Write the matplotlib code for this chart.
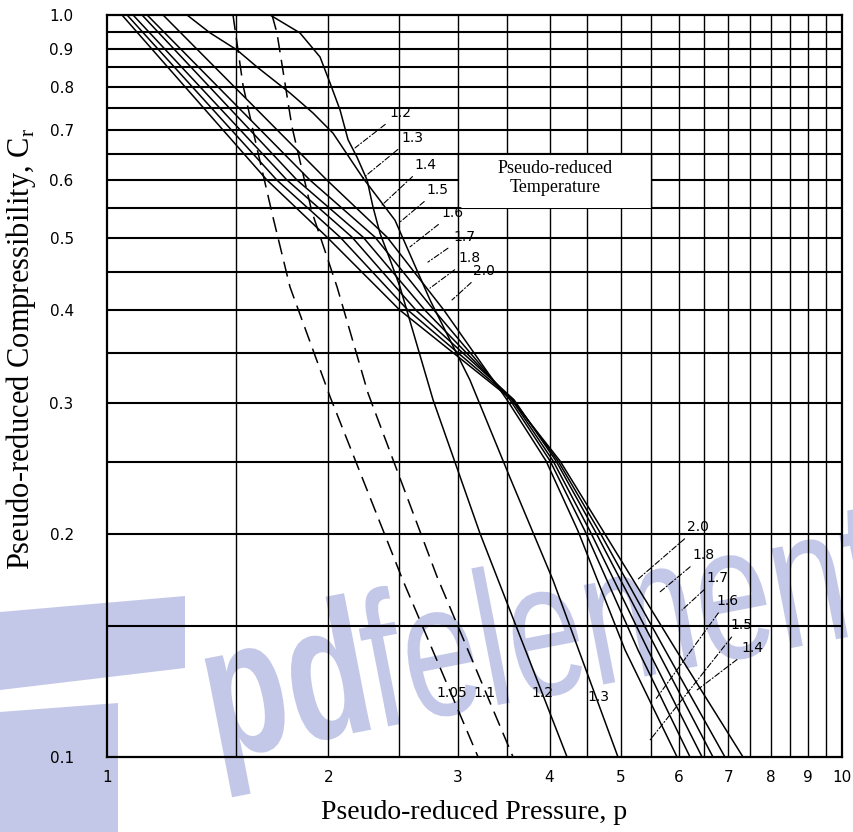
import numpy as np
import matplotlib.pyplot as plt
from matplotlib.textpath import TextPath
from matplotlib.font_manager import FontProperties
from matplotlib.patches import PathPatch, Polygon, Rectangle
from matplotlib.transforms import Affine2D
from matplotlib.path import Path

# Pseudo-reduced pressure / compressibility curves, one pair per temperature
tr105_p = [1.484, 1.531, 1.600, 1.682, 1.774, 2.011, 2.527, 3.198]
tr105_c = [1.0, 0.805, 0.661, 0.534, 0.430, 0.306, 0.173, 0.1]

tr11_p = [1.677, 1.703, 1.785, 1.900, 2.056, 2.266, 2.812, 3.568]
tr11_c = [1.0, 0.946, 0.707, 0.543, 0.430, 0.309, 0.175, 0.1]

tr12_p = [1.667, 1.830, 1.949, 2.011, 2.075, 2.128, 2.189, 2.259, 2.301, 2.352, 2.427, 2.504, 2.777, 3.218, 4.226]
tr12_c = [1.0, 0.946, 0.878, 0.810, 0.745, 0.679, 0.643, 0.599, 0.551, 0.508, 0.468, 0.430, 0.303, 0.200, 0.1]

tr13_p = [1.285, 1.381, 1.503, 1.600, 1.774, 1.906, 2.030, 2.230, 2.465, 2.751, 3.118, 3.534, 4.045, 4.957]
tr13_c = [1.0, 0.946, 0.897, 0.851, 0.785, 0.738, 0.693, 0.603, 0.529, 0.413, 0.322, 0.238, 0.173, 0.1]

# Tr 1.4 - 2.0 share the same compressibility read-off levels
bundle_c = [1.0, 0.599, 0.502, 0.400, 0.303, 0.2506, 0.2017, 0.1394, 0.1]
tr14_p = [1.192, 1.992, 2.404, 2.874, 3.501, 3.957, 4.373, 5.068, 5.965]
tr15_p = [1.134, 1.889, 2.315, 2.786, 3.534, 4.007, 4.469, 5.278, 6.212]
tr16_p = [1.116, 1.814, 2.230, 2.708, 3.556, 4.045, 4.540, 5.446, 6.451]
tr17_p = [1.085, 1.758, 2.154, 2.633, 3.579, 4.082, 4.612, 5.602, 6.675]
tr18_p = [1.065, 1.703, 2.075, 2.568, 3.568, 4.108, 4.671, 5.744, 6.930]
tr20_p = [1.048, 1.651, 1.992, 2.504, 3.556, 4.134, 4.730, 5.946, 7.334]

# grid
x_grid = [1.5, 2, 2.5, 3, 3.5, 4, 4.5, 5, 5.5, 6, 6.5, 7, 7.5, 8, 8.5, 9, 9.5]
y_grid = [0.15, 0.2, 0.25, 0.3, 0.35, 0.4, 0.45, 0.5, 0.55, 0.6, 0.65, 0.7, 0.75, 0.8, 0.85, 0.9, 0.95]
x_ticks = [1, 2, 3, 4, 5, 6, 7, 8, 9, 10]
x_ticklabels = ['1', '2', '3', '4', '5', '6', '7', '8', '9', '10']
y_ticks = [0.1, 0.2, 0.3, 0.4, 0.5, 0.6, 0.7, 0.8, 0.9, 1.0]
y_ticklabels = ['0.1', '0.2', '0.3', '0.4', '0.5', '0.6', '0.7', '0.8', '0.9', '1.0']

# curve labels: text, label position, point on curve
top_names = ['1.2', '1.3', '1.4', '1.5', '1.6', '1.7', '1.8', '2.0']
top_label_p = [2.504, 2.60, 2.708, 2.82, 2.956, 3.06, 3.118, 3.258]
top_label_c = [0.738, 0.683, 0.628, 0.581, 0.541, 0.502, 0.470, 0.452]
top_point_p = [2.175, 2.230, 2.367, 2.504, 2.584, 2.733, 2.751, 2.947]
top_point_c = [0.662, 0.603, 0.5545, 0.526, 0.487, 0.4645, 0.4285, 0.413]

right_names = ['2.0', '1.8', '1.7', '1.6', '1.5', '1.4']
right_label_p = [6.368, 6.49, 6.76, 6.977, 7.289, 7.544]
right_label_c = [0.204, 0.187, 0.1743, 0.1623, 0.1506, 0.1402]
right_point_p = [5.262, 5.654, 6.058, 5.567, 5.480, 6.349]
right_point_c = [0.1732, 0.1669, 0.1578, 0.1193, 0.1054, 0.1231]

bottom_names = ['1.05', '1.1', '1.2', '1.3']
bottom_label_p = [2.947, 3.268, 3.907, 4.656]
bottom_label_c = [0.122, 0.122, 0.122, 0.1205]

fig = plt.figure(figsize=(8.54, 8.32), dpi=100)
fig.patch.set_facecolor('white')
ax = fig.add_axes([107 / 854, 1 - 757 / 832, 735 / 854, 742 / 832])
ax.set_facecolor('none')
ax.set_xscale('log')
ax.set_yscale('log')
ax.set_xlim(1, 10)
ax.set_ylim(0.1, 1.0)

for x in x_grid:
    ax.axvline(x, color='black', lw=1.0, zorder=1)
for y in y_grid:
    ax.axhline(y, color='black', lw=1.5, zorder=1)

# white box behind the legend title
ax.add_patch(Rectangle((3, 0.55), 2.5, 0.1, facecolor='white', edgecolor='none', zorder=2))
ax.plot([3, 5.5], [0.65, 0.65], color='black', lw=1.5, zorder=3)
ax.plot([3, 3], [0.55, 0.65], color='black', lw=1.0, zorder=3)
ax.plot([5.5, 5.5], [0.55, 0.65], color='black', lw=1.0, zorder=3)
ax.text(4.07, 0.603, 'Pseudo-reduced\nTemperature', ha='center', va='center',
        family='Liberation Serif', fontsize=13, linespacing=1.1, zorder=4)

solid = dict(color='black', lw=1.1, zorder=5)
ax.plot(tr105_p, tr105_c, ls=(0, (10, 5)), **solid)
ax.plot(tr11_p, tr11_c, ls=(0, (10, 5)), **solid)
ax.plot(tr12_p, tr12_c, **solid)
ax.plot(tr13_p, tr13_c, **solid)
for p in [tr14_p, tr15_p, tr16_p, tr17_p, tr18_p, tr20_p]:
    ax.plot(p, bundle_c, **solid)

leader = dict(arrowstyle='-', color='black', lw=0.8, linestyle=(0, (5, 2, 1, 2)),
              shrinkA=2, shrinkB=0)
for name, lp, lc, pp, pc in zip(top_names, top_label_p, top_label_c, top_point_p, top_point_c):
    ax.annotate(name, xy=(pp, pc), xytext=(lp, lc), ha='center', va='center',
                fontsize=10, arrowprops=leader, zorder=6)
for name, lp, lc, pp, pc in zip(right_names, right_label_p, right_label_c, right_point_p, right_point_c):
    ax.annotate(name, xy=(pp, pc), xytext=(lp, lc), ha='center', va='center',
                fontsize=10, arrowprops=leader, zorder=6)
for name, lp, lc in zip(bottom_names, bottom_label_p, bottom_label_c):
    ax.text(lp, lc, name, ha='center', va='center', fontsize=10, zorder=6)

ax.xaxis.set_major_locator(plt.FixedLocator(x_ticks))
ax.xaxis.set_minor_locator(plt.NullLocator())
ax.set_xticklabels(x_ticklabels)
ax.yaxis.set_major_locator(plt.FixedLocator(y_ticks))
ax.yaxis.set_minor_locator(plt.NullLocator())
ax.set_yticklabels(y_ticklabels)
ax.tick_params(axis='x', length=0, labelsize=11, pad=9)
ax.tick_params(axis='y', length=0, labelsize=11, pad=24)
for s in ax.spines.values():
    s.set_linewidth(1.6)

ax.set_xlabel('Pseudo-reduced Pressure, p', family='Liberation Serif', fontsize=20)
ax.xaxis.set_label_coords(0.5, -0.058)
ax.set_ylabel('Pseudo-reduced Compressibility, C$_\\mathregular{r}$', family='Liberation Serif',
              fontsize=22)
ax.yaxis.set_label_coords(-0.094, 0.55)

# pdfelement watermark
wm_color = '#c4c8e8'
bold = FontProperties(family='Liberation Sans', weight='bold')
light = FontProperties(family='Liberation Sans')
size = 160
tp1 = TextPath((0, 0), 'pd', size=size, prop=bold)
w1 = tp1.get_extents().x1 + 6
tp2 = TextPath((w1, 0), 'felement', size=size, prop=light)
wm = Path.make_compound_path(tp1, tp2)
wm_tr = Affine2D().scale(0.86, 1.2).rotate_deg(11).translate(215, 832 - 760).scale(1 / 100)
fig.add_artist(PathPatch(wm, transform=wm_tr + fig.dpi_scale_trans, facecolor=wm_color,
                         edgecolor='none', zorder=-1))
px = Affine2D().scale(1 / 100) + fig.dpi_scale_trans
fig.add_artist(Polygon([(0, 832 - 612), (185, 832 - 596), (185, 832 - 668), (0, 832 - 690)],
                       transform=px, facecolor=wm_color, edgecolor='none', zorder=-1))
fig.add_artist(Polygon([(0, 832 - 712), (118, 832 - 703), (118, 0), (0, 0)],
                       transform=px, facecolor=wm_color, edgecolor='none', zorder=-1))

fig.savefig('out.png', dpi=100)
